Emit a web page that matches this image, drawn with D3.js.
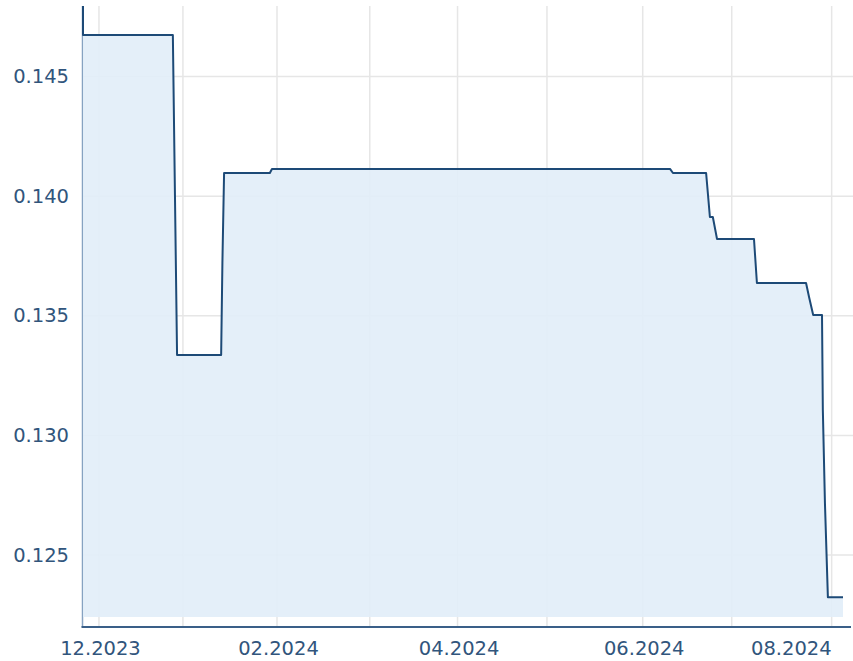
<!DOCTYPE html>
<html>
<head>
<meta charset="utf-8">
<script src="https://cdn.jsdelivr.net/npm/d3@7"></script>
<style>
  html, body { margin: 0; padding: 0; background: #fff; }
  svg { display: block; }
  .grid line { stroke: #e6e6e6; stroke-width: 1.5; }
  .tick-label { font-family: "DejaVu Sans", Verdana, sans-serif; font-size: 19.5px; fill: #31557c; }
</style>
</head>
<body>
<div id="chart"></div>
<script>
// x positions are trading-day indices (the axis skips non-trading days)
const pos = [0, 0, 21.4, 21.9, 22.4, 32.9, 33.2, 33.6, 44.5, 45.0, 139.8, 140.5, 148.4, 149.3, 150.0,
  151.0, 159.8, 160.5, 172.2, 172.9, 173.9, 176.0, 176.2, 176.7, 177.4, 181];
const values = [0.14795, 0.14674, 0.14674, 0.14005, 0.13336, 0.13336, 0.13721, 0.14097, 0.14097, 0.14114,
  0.14114, 0.14097, 0.14097, 0.13913, 0.13913, 0.13821, 0.13821, 0.13637, 0.13637, 0.1358,
  0.13503, 0.13503, 0.13106, 0.12717, 0.12324, 0.12324];

// month gridlines (every month), labels on every other month
const monthPos = [3.8, 23.8, 46.2, 68.3, 89.2, 110.5, 133.3, 154.5, 178.3];
const monthLabels = ['12.2023', '', '02.2024', '', '04.2024', '', '06.2024', '', '08.2024'];
const yTicks = [0.125, 0.130, 0.135, 0.140, 0.145];

(function() {
  const width = 853, height = 661;
  const left = 83, right = 843, top = 6, bottom = 617, axisY = 627;

  const svg = d3.select('#chart').append('svg')
    .attr('width', width)
    .attr('height', height);

  const x = d3.scaleLinear().domain([0, 181]).range([left, right]);
  const y = d3.scaleLinear().domain([0.12241, 0.14795]).range([bottom, top]);

  const data = pos.map((p, i) => ({ p, v: values[i] }));

  // Grid
  const grid = svg.append('g').attr('class', 'grid');
  grid.selectAll('.v-grid')
    .data(monthPos)
    .enter().append('line')
    .attr('x1', d => x(d)).attr('x2', d => x(d))
    .attr('y1', top).attr('y2', axisY);
  grid.selectAll('.h-grid')
    .data(yTicks)
    .enter().append('line')
    .attr('x1', left).attr('x2', width)
    .attr('y1', d => y(d)).attr('y2', d => y(d));

  // Y axis line (lighter than the x axis)
  svg.append('line')
    .attr('x1', left - 0.5).attr('x2', left - 0.5)
    .attr('y1', top).attr('y2', axisY)
    .attr('stroke', '#86a2c1')
    .attr('stroke-width', 1.5);

  // Area + line
  const area = d3.area()
    .x(d => x(d.p))
    .y0(bottom)
    .y1(d => y(d.v));
  const line = d3.line()
    .x(d => x(d.p))
    .y(d => y(d.v));

  svg.append('path')
    .datum(data.slice(1))
    .attr('d', area)
    .attr('fill', '#e2eef9')
    .attr('fill-opacity', 0.92);

  svg.append('path')
    .datum(data)
    .attr('d', line)
    .attr('fill', 'none')
    .attr('stroke', '#1d4a77')
    .attr('stroke-width', 2)
    .attr('stroke-linejoin', 'round');

  // X axis line
  svg.append('line')
    .attr('x1', left - 1.5).attr('x2', width - 2)
    .attr('y1', axisY).attr('y2', axisY)
    .attr('stroke', '#3a5f88')
    .attr('stroke-width', 2);

  // Y labels
  svg.selectAll('.y-label')
    .data(yTicks)
    .enter().append('text')
    .attr('class', 'tick-label')
    .attr('x', 69)
    .attr('y', d => y(d) + 6.5)
    .attr('text-anchor', 'end')
    .text(d => d.toFixed(3));

  // X labels
  const labelled = monthPos.map((p, i) => ({ p, label: monthLabels[i], last: i === monthPos.length - 1 }))
    .filter(d => d.label);
  svg.selectAll('.x-label')
    .data(labelled)
    .enter().append('text')
    .attr('class', 'tick-label')
    .attr('x', d => d.last ? x(d.p) : x(d.p) + 1.5)
    .attr('y', 655)
    .attr('text-anchor', d => d.last ? 'end' : 'middle')
    .text(d => d.label);
})();
</script>
</body>
</html>
